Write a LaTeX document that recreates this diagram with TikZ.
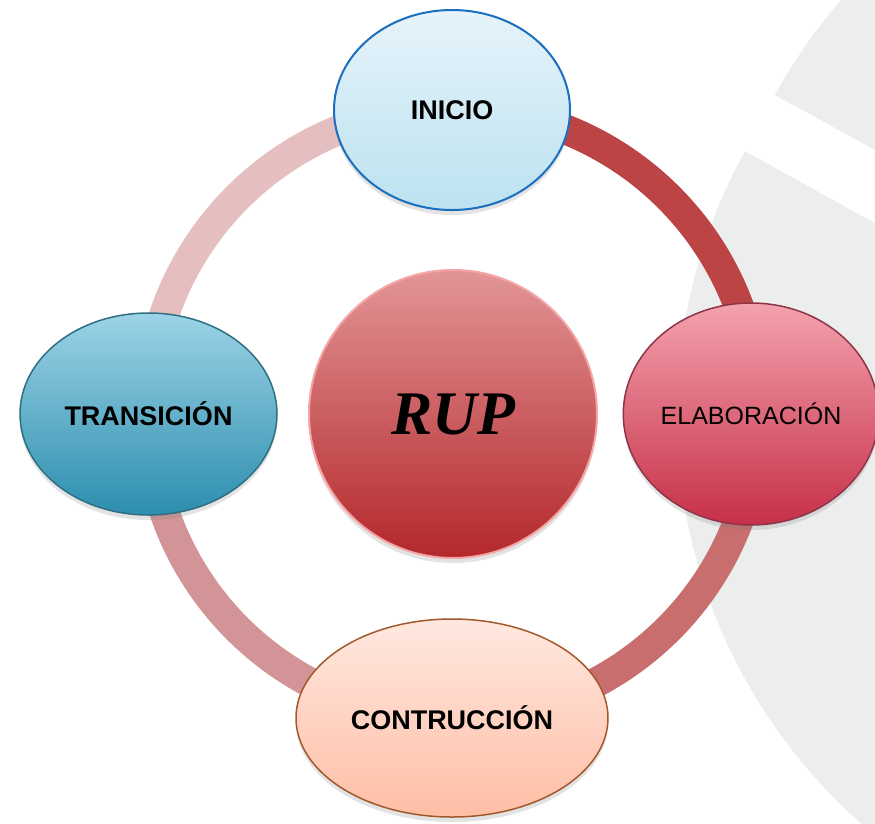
\documentclass[tikz,border=0pt]{standalone}
\usepackage{fontspec}
\setmainfont{Liberation Sans}
\newfontfamily\rupfont{Liberation Serif}
\usetikzlibrary{shapes.geometric,shadows}
\definecolor{bggray}{RGB}{236,238,238}
\definecolor{ringA}{RGB}{229,190,192}
\definecolor{ringB}{RGB}{188,68,68}
\definecolor{ringC}{RGB}{200,110,110}
\definecolor{ringD}{RGB}{210,148,150}
\definecolor{inicioT}{RGB}{230,243,250}
\definecolor{inicioB}{RGB}{188,226,240}
\definecolor{inicioD}{RGB}{27,111,192}
\definecolor{transT}{RGB}{157,211,230}
\definecolor{transB}{RGB}{44,142,174}
\definecolor{transD}{RGB}{47,111,130}
\definecolor{elabT}{RGB}{244,162,174}
\definecolor{elabB}{RGB}{198,48,72}
\definecolor{elabD}{RGB}{142,52,72}
\definecolor{contT}{RGB}{255,232,224}
\definecolor{contB}{RGB}{255,190,165}
\definecolor{contD}{RGB}{163,89,44}
\definecolor{rupT}{RGB}{227,149,151}
\definecolor{rupB}{RGB}{179,40,43}
\definecolor{rupD}{RGB}{245,165,165}
\tikzset{
  phase/.style={ellipse, inner sep=0pt, line width=1.5pt,
    drop shadow={opacity=0.22, shadow xshift=0pt, shadow yshift=-5pt},
    font=\bfseries\fontsize{27}{30}\selectfont},
  ring/.style={line width=30pt},
}
\begin{document}
\begin{tikzpicture}[x=1pt,y=-1pt]
\useasboundingbox (0,0) rectangle (875,823);
\fill[white] (0,0) rectangle (875,823);
% background grey pie pieces
\begin{scope}
  \clip (0,0) rectangle (875,823);
  \begin{scope}
    \clip (600,71) -- (900,237) -- (900,900) -- (600,900) -- cycle;
    \fill[bggray] (1222,415) circle[radius=545];
  \end{scope}
  \begin{scope}
    \clip (600,-1.25) -- (900,163.75) -- (900,-100) -- (600,-100) -- cycle;
    \fill[bggray] (1252.5,357.6) circle[radius=545];
  \end{scope}
\end{scope}
% ring
\coordinate (ringc) at (453,413);
\draw[ring, ringA] (ringc) ++(180:305) arc[start angle=180, end angle=270, radius=305];
\draw[ring, ringB] (ringc) ++(270:305) arc[start angle=270, end angle=360, radius=305];
\draw[ring, ringC] (ringc) ++(0:305) arc[start angle=0, end angle=90, radius=305];
\draw[ring, ringD] (ringc) ++(90:305) arc[start angle=90, end angle=180, radius=305];
% center
\node[circle, minimum size=288pt, inner sep=0pt, top color=rupT, bottom color=rupB,
      draw=rupD, line width=2pt,
      drop shadow={opacity=0.22, shadow xshift=0pt, shadow yshift=-5pt},
      font=\rupfont\bfseries\itshape\fontsize{62}{70}\selectfont] (rup) at (453,414) {RUP};
% phases
\node[phase, minimum width=236pt, minimum height=200pt, top color=inicioT, bottom color=inicioB,
      draw=inicioD, line width=2pt] (inicio) at (452,110) {INICIO};
\node[phase, minimum width=257pt, minimum height=202pt, top color=transT, bottom color=transB,
      draw=transD] (transicion) at (148.5,414) {TRANSICIÓN};
\node[phase, minimum width=252pt, minimum height=222pt, top color=elabT, bottom color=elabB,
      draw=elabD, font=\fontsize{25}{30}\selectfont] (elaboracion) at (751,414) {ELABORACIÓN};
\node[phase, minimum width=312pt, minimum height=198pt, top color=contT, bottom color=contB,
      draw=contD] (construccion) at (452,718) {CONTRUCCIÓN};
\end{tikzpicture}
\end{document}
